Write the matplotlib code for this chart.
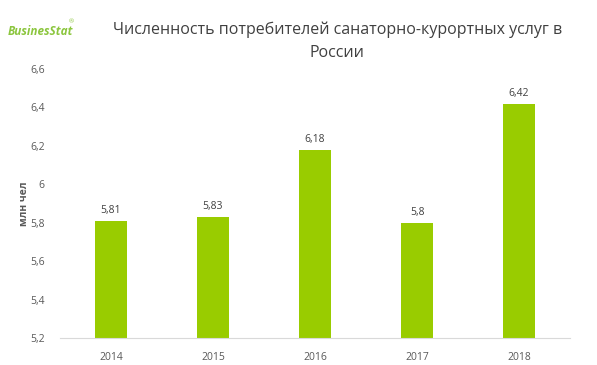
import matplotlib.pyplot as plt

years = ['2014', '2015', '2016', '2017', '2018']
values = [5.81, 5.83, 6.18, 5.80, 6.42]
labels = ['5,81', '5,83', '6,18', '5,8', '6,42']
yticks = [5.2, 5.4, 5.6, 5.8, 6.0, 6.2, 6.4, 6.6]
ytick_labels = ['5,2', '5,4', '5,6', '5,8', '6', '6,2', '6,4', '6,6']

plt.rcParams['font.family'] = ['Open Sans', 'DejaVu Sans']

fig = plt.figure(figsize=(5.97, 3.65), dpi=100)
ax = fig.add_axes([0.1005, 0.074, 0.8545, 0.737])

x = range(len(years))
ax.bar(x, values, width=0.31, color='#99cc00', zorder=2)
for i, (v, lab) in enumerate(zip(values, labels)):
    ax.text(i, v + 0.025, lab, ha='center', va='bottom', fontsize=7.5, color='#404040')

ax.set_xlim(-0.5, len(years) - 0.5)
ax.set_ylim(5.2, 6.6)
ax.set_xticks(list(x))
ax.set_xticklabels(years, fontsize=7.5, color='#595959')
ax.set_yticks(yticks)
ax.set_yticklabels(ytick_labels, fontsize=7.5, color='#595959')
ax.tick_params(axis='x', length=0, pad=10)
ax.tick_params(axis='y', length=0, pad=11)
for s in ['top', 'right', 'left']:
    ax.spines[s].set_visible(False)
ax.spines['bottom'].set_color('#d9d9d9')
ax.set_ylabel('млн чел', fontsize=7.5, color='#595959', fontweight='bold', labelpad=0)

fig.text(0.565, 0.887, 'Численность потребителей санаторно-курортных услуг в\nРоссии',
         ha='center', va='center', fontsize=11.5, color='#404040', linespacing=1.55)

# logo
fig.text(0.013, 0.915, 'BusinesStat', fontsize=8.5, fontweight='bold', fontstyle='italic',
         color='#8cc63f', ha='left', va='center')
fig.text(0.115, 0.94, '®', fontsize=4.5, color='#8cc63f', ha='left', va='center')

fig.savefig('out.png', dpi=100)
